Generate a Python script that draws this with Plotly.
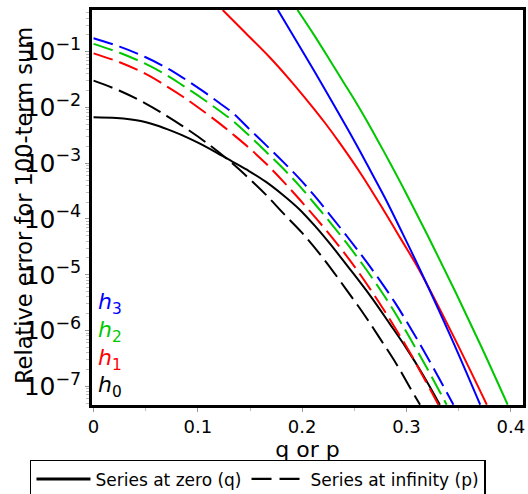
import plotly.graph_objects as go

# ---- data ----
# x = q or p ; values are log10(relative error)
# Series at zero (q), solid lines
q_h0 = [0.0, 0.022, 0.044, 0.06, 0.076, 0.09, 0.101, 0.117, 0.133, 0.149, 0.165, 0.181, 0.197,
        0.212, 0.226, 0.245, 0.265, 0.284, 0.300, 0.316, 0.332]
lg_q_h0 = [-2.175, -2.19, -2.24, -2.32, -2.43, -2.54, -2.64, -2.80, -2.97, -3.14, -3.33, -3.56, -3.82,
           -4.12, -4.43, -4.88, -5.37, -5.88, -6.32, -6.80, -7.33]

q_h1 = [0.1238, 0.146, 0.1688, 0.188, 0.2072, 0.2216, 0.2361, 0.257, 0.2777, 0.295, 0.313, 0.345, 0.377]
lg_q_h1 = [-0.253, -0.67, -1.10, -1.50, -1.93, -2.27, -2.64, -3.21, -3.83, -4.37, -4.94, -6.10, -7.33]

q_h2 = [0.1955, 0.211, 0.2264, 0.239, 0.2521, 0.265, 0.2777, 0.2938, 0.3049, 0.326, 0.348, 0.372, 0.397]
lg_q_h2 = [-0.253, -0.69, -1.149, -1.53, -1.925, -2.34, -2.77, -3.33, -3.73, -4.51, -5.35, -6.30, -7.33]

q_h3 = [0.1767, 0.19, 0.2043, 0.217, 0.2296, 0.2425, 0.2553, 0.267, 0.2793, 0.296, 0.313, 0.342, 0.3707]
lg_q_h3 = [-0.253, -0.67, -1.12, -1.52, -1.93, -2.35, -2.78, -3.19, -3.62, -4.25, -4.91, -6.09, -7.33]

# Series at infinity (p), dashed lines
p_h0 = [0.0, 0.025, 0.05, 0.07, 0.085, 0.108, 0.1335, 0.15, 0.166, 0.182, 0.2, 0.22, 0.2425, 0.26,
        0.2745, 0.29, 0.3033, 0.313]
lg_p_h0 = [-1.52, -1.70, -1.93, -2.15, -2.33, -2.63, -3.01, -3.29, -3.58, -3.90, -4.25, -4.70, -5.27, -5.73,
           -6.14, -6.59, -7.02, -7.33]

p_h1 = [0.0, 0.025, 0.05, 0.07, 0.085, 0.101, 0.121, 0.1335, 0.15, 0.166, 0.182, 0.198, 0.2264, 0.252,
        0.2745, 0.29, 0.3034, 0.3306]
lg_p_h1 = [-1.03, -1.19, -1.40, -1.62, -1.80, -2.01, -2.29, -2.48, -2.74, -3.02, -3.33, -3.66, -4.28, -4.90,
           -5.52, -5.98, -6.40, -7.33]

p_h2 = [0.0, 0.025, 0.05, 0.07, 0.085, 0.1035, 0.1207, 0.1335, 0.15, 0.1656, 0.182, 0.1976, 0.2125,
        0.2264, 0.2425, 0.2585, 0.2745, 0.289, 0.3034, 0.321, 0.3385]
lg_p_h2 = [-0.86, -1.02, -1.22, -1.42, -1.60, -1.83, -2.06, -2.24, -2.52, -2.80, -3.10, -3.41, -3.74,
           -4.05, -4.43, -4.83, -5.26, -5.68, -6.14, -6.72, -7.33]

p_h3 = [0.0, 0.025, 0.05, 0.07, 0.085, 0.1035, 0.1207, 0.1335, 0.15, 0.1656, 0.182, 0.1976, 0.2125,
        0.2264, 0.2425, 0.2585, 0.2745, 0.289, 0.3034, 0.321, 0.345]
lg_p_h3 = [-0.76, -0.91, -1.10, -1.29, -1.46, -1.69, -1.92, -2.10, -2.40, -2.68, -2.98, -3.28, -3.60,
           -3.92, -4.30, -4.69, -5.10, -5.50, -5.94, -6.51, -7.33]

colors = {"h0": "rgb(0,0,0)", "h1": "rgb(255,0,0)", "h2": "rgb(0,200,0)", "h3": "rgb(0,0,255)"}
labels = ["h0", "h1", "h2", "h3"]
solid = {"h0": (q_h0, lg_q_h0), "h1": (q_h1, lg_q_h1), "h2": (q_h2, lg_q_h2), "h3": (q_h3, lg_q_h3)}
dashed = {"h0": (p_h0, lg_p_h0), "h1": (p_h1, lg_p_h1), "h2": (p_h2, lg_p_h2), "h3": (p_h3, lg_p_h3)}

legend_names = ["Series at zero (q)", "Series at infinity (p)"]
x_title = "q or p"
y_title = "Relative error for 100-term sum"

FONT = "DejaVu Sans"
DASH = "20px,7px"


def to_err(lg):
    return [10 ** v for v in lg]


fig = go.Figure()
for k in labels:
    x, lg = solid[k]
    fig.add_trace(go.Scatter(x=x, y=to_err(lg), mode="lines", showlegend=False,
                             line=dict(color=colors[k], width=2, shape="spline", smoothing=1.0)))
for k in labels:
    x, lg = dashed[k]
    fig.add_trace(go.Scatter(x=x, y=to_err(lg), mode="lines", showlegend=False,
                             line=dict(color=colors[k], width=2, dash=DASH, shape="spline", smoothing=1.0)))

# legend entries
fig.add_trace(go.Scatter(x=[None], y=[None], mode="lines", name=legend_names[0],
                         line=dict(color="black", width=3)))
fig.add_trace(go.Scatter(x=[None], y=[None], mode="lines", name=legend_names[1],
                         line=dict(color="black", width=2.2, dash="20px,8px")))

# h labels
h_pos = {"h3": 0.256, "h2": 0.187, "h1": 0.116, "h0": 0.046}
for k in ["h3", "h2", "h1", "h0"]:
    fig.add_annotation(xref="paper", yref="paper", x=0.01, y=h_pos[k],
                       xanchor="left", yanchor="middle", showarrow=False,
                       text="<i>h</i><sub>%s</sub>" % k[1],
                       font=dict(family=FONT, size=22, color=colors[k]))

# y axis title as rotated text
fig.add_annotation(xref="paper", yref="paper", x=-0.158, y=0.506, xanchor="center", yanchor="middle",
                   showarrow=False, textangle=-90, text=y_title,
                   font=dict(family=FONT, size=22.5, color="black"))

fig.update_layout(
    width=528, height=494,
    margin=dict(l=92, r=5, t=10, b=89, autoexpand=False),
    paper_bgcolor="white", plot_bgcolor="white",
    font=dict(family=FONT, color="black"),
    showlegend=True,
    legend=dict(orientation="h", x=-0.1439, y=-0.139, xanchor="left", yanchor="top",
                bordercolor="black", borderwidth=1.5, bgcolor="white",
                font=dict(family=FONT, size=17), itemwidth=54, tracegroupgap=0),
)

fig.update_xaxes(
    range=[-0.0015, 0.4117], dtick=0.1, tick0=0,
    showline=True, linecolor="black", linewidth=2.5, mirror=True,
    ticks="outside", ticklen=4, tickcolor="#999", tickwidth=1,
    minor=dict(dtick=0.05, ticks="outside", ticklen=3, tickcolor="#bbb"),
    showgrid=False, zeroline=False,
    tickfont=dict(family=FONT, size=18),
    title=dict(text=x_title, font=dict(family=FONT, size=22), standoff=0),
)
fig.update_yaxes(
    type="log", range=[-7.335, -0.253], dtick=1, exponentformat="power",
    showline=True, linecolor="black", linewidth=2.5, mirror=True,
    ticks="outside", ticklen=4, tickcolor="#999", tickwidth=1,
    minor=dict(dtick="D1", ticks="outside", ticklen=3, tickcolor="#bbb"),
    showgrid=False, zeroline=False,
    tickfont=dict(family=FONT, size=20),
)

fig.write_html("out.html")
